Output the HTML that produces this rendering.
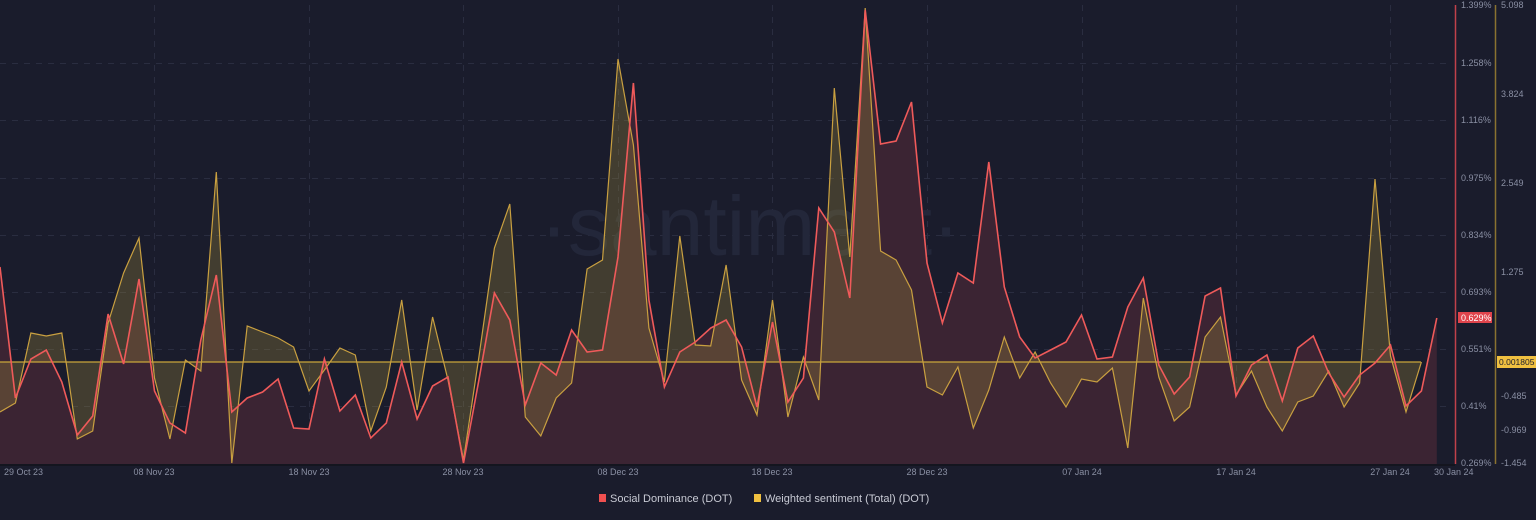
<!DOCTYPE html>
<html><head><meta charset="utf-8"><style>
html,body{margin:0;padding:0;background:#1a1c2c;width:1536px;height:520px;overflow:hidden;font-family:"Liberation Sans",sans-serif}
</style></head><body>
<svg id="s" width="1536" height="520" xmlns="http://www.w3.org/2000/svg" style="position:absolute;left:0;top:0">
<rect width="1536" height="520" fill="#1a1c2c"/>
<g id="grid" stroke="#2a2d40" stroke-width="1" stroke-dasharray="6,6"></g>
<text x="750" y="255" text-anchor="middle" font-size="84" fill="#23273a" font-family="Liberation Sans, sans-serif">·santiment·</text>
<path id="redFill" fill="#3b2433"/>
<path id="yelFill" fill="#a08a3a" fill-opacity="0.3"/>
<line x1="0" y1="362" x2="1421" y2="362" stroke="#c9a63a" stroke-width="1.3"/>
<polyline id="yel" fill="none" stroke="#c9a040" stroke-width="1.2"/>
<polyline id="red" fill="none" stroke="#ef5a5a" stroke-width="1.6"/>
<rect x="0" y="464" width="1455" height="2" fill="#14151f"/>
<line x1="1455.5" y1="5" x2="1455.5" y2="464" stroke="#c0414a" stroke-width="1.5"/>
<line x1="1495.5" y1="5" x2="1495.5" y2="464" stroke="#8a7230" stroke-width="1.5"/>
<g id="lbl" font-size="9" fill="#8a8fa3"></g>
<rect x="1458" y="312" width="34" height="11" fill="#e0444c"/>
<text x="1461" y="321" font-size="9" fill="#fff">0.629%</text>
<rect x="1497" y="356" width="39" height="12" fill="#f0c040"/>
<text x="1499" y="365" font-size="8.5" fill="#1a1c2c">0.001805</text>
<rect x="599" y="494" width="7" height="8" fill="#f05050"/>
<text x="610" y="502" font-size="11" fill="#c8cad4">Social Dominance (DOT)</text>
<rect x="754" y="494" width="7" height="8" fill="#f0c040"/>
<text x="765" y="502" font-size="11" fill="#c8cad4">Weighted sentiment (Total) (DOT)</text>
</svg>
<script>
var R=[267,398,359,350,382,435,416,314,364,279,391,423,433,340,275,412,398,392,379,428,429,359,411,395,438,423,362,419,386,377,463,380,293,320,405,363,375,330,352,350,257,83,300,387,352,342,328,320,347,407,322,402,378,208,232,298,10,144,141,102,263,323,273,283,162,287,337,358,350,342,315,359,357,307,278,365,394,377,296,288,396,365,355,401,348,336,373,397,375,363,345,406,391,318];
var Y=[412,403,333,336,333,439,431,323,273,238,378,439,360,371,172,463,326,332,338,347,391,370,348,355,431,387,300,410,317,380,460,357,248,204,417,436,398,383,269,260,59,145,328,382,236,345,346,265,380,415,300,417,357,400,88,257,8,251,260,290,387,395,367,428,390,337,378,352,383,407,379,382,368,448,298,377,421,407,337,317,395,371,407,431,402,396,371,407,383,179,356,412,362];
var dx=15.45,ns="http://www.w3.org/2000/svg";
function pts(a){return a.map(function(v,i){return (i*dx).toFixed(1)+","+v}).join(" ");}
document.getElementById("red").setAttribute("points",pts(R));
document.getElementById("yel").setAttribute("points",pts(Y));
document.getElementById("redFill").setAttribute("d","M0,464 L"+pts(R).split(" ").join(" L")+" L"+((R.length-1)*dx).toFixed(1)+",464 Z");
document.getElementById("yelFill").setAttribute("d","M0,362 L"+pts(Y).split(" ").join(" L")+" L"+((Y.length-1)*dx).toFixed(1)+",362 Z");
var g=document.getElementById("grid"),l=document.getElementById("lbl");
function ln(x1,y1,x2,y2){var e=document.createElementNS(ns,"line");e.setAttribute("x1",x1);e.setAttribute("y1",y1);e.setAttribute("x2",x2);e.setAttribute("y2",y2);g.appendChild(e);}
function tx(x,y,t,a){var e=document.createElementNS(ns,"text");e.setAttribute("x",x);e.setAttribute("y",y);if(a)e.setAttribute("text-anchor",a);e.textContent=t;l.appendChild(e);}
var ry=[5,63,120,178,235,292,349,406,463],rt=["1.399%","1.258%","1.116%","0.975%","0.834%","0.693%","0.551%","0.41%","0.269%"];
ry.forEach(function(y,i){if(i>0&&i<8)ln(0,y+0.5,1452,y+0.5);tx(1461,y+3,rt[i]);});
[[5,"5.098"],[94,"3.824"],[183,"2.549"],[272,"1.275"],[396,"-0.485"],[430,"-0.969"],[463,"-1.454"]].forEach(function(p){tx(1501,p[0]+3,p[1]);});
[["08 Nov",154],["18 Nov",309],["28 Nov",463],["08 Dec",618],["18 Dec",772],["28 Dec",927],["07 Jan 24",1082],["17 Jan 24",1236],["27 Jan 24",1390]].forEach(function(p){ln(p[1]+0.5,5,p[1]+0.5,463);tx(p[1],475,p[0]+(p[0].length<7?" 23":""),"middle");});
tx(4,475,"29 Oct 23");tx(1434,475,"30 Jan 24");
</script>
</body></html>
